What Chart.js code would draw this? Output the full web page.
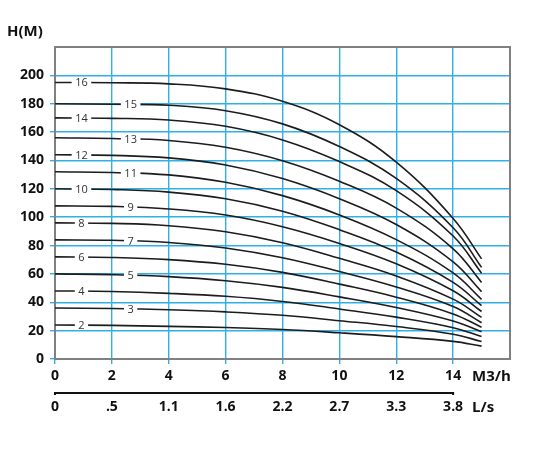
<!DOCTYPE html>
<html>
<head>
<meta charset="utf-8">
<script src="https://cdn.jsdelivr.net/npm/chart.js@4.4.1/dist/chart.umd.min.js"></script>
<style>
  html, body { margin: 0; padding: 0; background: #fff; }
  #wrap { width: 541px; height: 460px; position: relative; }
</style>
</head>
<body>
<div id="wrap"><canvas id="c" width="541" height="460"></canvas></div>
<script>
// ---- data ----
const flowM3h = [0, 2, 4, 6, 8, 10, 12, 14, 15];
const stages = [2, 3, 4, 5, 6, 7, 8, 9, 10, 11, 12, 13, 14, 15, 16];
const head2  = [24, 23.7, 23.0, 22.2, 20.8, 18.5, 15.8, 12.4, 9.1];
const head3  = [36, 35.6, 34.7, 33.2, 30.8, 27.0, 22.9, 17.5, 12.3];
const head4  = [48, 47.6, 46.3, 44.2, 40.6, 35.3, 29.5, 22.1, 15.8];
const head5  = [60, 59.5, 58.1, 55.2, 50.5, 43.8, 36.3, 26.8, 19.3];
const head6  = [72, 71.6, 70.1, 66.8, 61.1, 52.8, 43.6, 31.8, 22.4];
const head7  = [84, 83.7, 82.2, 78.3, 71.4, 61.7, 50.8, 37.0, 25.6];
const head8  = [96, 95.6, 94.0, 89.7, 82.0, 71.0, 58.6, 42.2, 29.4];
const head9  = [108, 107.6, 105.8, 101.5, 93.3, 81.5, 67.2, 48.1, 33.5];
const head10 = [120, 119.5, 117.7, 113.0, 104.2, 91.2, 75.4, 54.0, 37.6];
const head11 = [132, 131.5, 129.8, 124.6, 115.2, 101.6, 84.2, 60.7, 42.1];
const head12 = [144, 143.6, 141.8, 136.8, 127.2, 113.0, 94.8, 68.5, 47.5];
const head13 = [156, 155.5, 154.1, 149.3, 139.8, 125.3, 106.4, 77.7, 54.0];
const head14 = [170, 169.7, 168.5, 164.1, 154.5, 139.2, 118.7, 86.7, 60.5];
const head15 = [180, 179.6, 178.9, 175.1, 165.8, 149.8, 127.3, 92.5, 64.6];
const head16 = [195, 194.8, 194.0, 190.5, 181.7, 165.2, 138.8, 99.1, 70.6];
const heads = [head2, head3, head4, head5, head6, head7, head8, head9, head10, head11, head12, head13, head14, head15, head16];
const flowTicksM3h = [0, 2, 4, 6, 8, 10, 12, 14];
const flowTicksLs = ['0', '.5', '1.1', '1.6', '2.2', '2.7', '3.3', '3.8'];
const headTicks = [0, 20, 40, 60, 80, 100, 120, 140, 160, 180, 200];

// ---- styling ----
const GRID = '#2fb0e6';
const FRAME = '#808080';
const TEXT = '#111';
const tickFont = { family: 'Open Sans', weight: 'bold', size: 14 };

const datasets = stages.map((s, i) => ({
  label: String(s),
  data: flowM3h.map((q, j) => ({ x: q, y: heads[i][j] })),
  borderColor: '#1c1c1c',
  borderWidth: 1.6,
  pointRadius: 0,
  fill: false,
  tension: 0.4
}));

function interpAt(xs, ys, xv) {
  for (let k = 0; k < xs.length - 1; k++) {
    if (xv >= xs[k] && xv <= xs[k + 1]) {
      const t = (xv - xs[k]) / (xs[k + 1] - xs[k]);
      return ys[k] + t * (ys[k + 1] - ys[k]);
    }
  }
  return ys[ys.length - 1];
}

const framePlugin = {
  id: 'frame',
  beforeDatasetsDraw(chart) {
    const { ctx, chartArea: a } = chart;
    ctx.save();
    ctx.strokeStyle = FRAME;
    ctx.lineWidth = 2;
    ctx.strokeRect(a.left, a.top, a.right - a.left, a.bottom - a.top);
    ctx.restore();
  }
};

const curveLabels = {
  id: 'curveLabels',
  afterDatasetsDraw(chart) {
    const { ctx, scales: { x, y } } = chart;
    ctx.save();
    ctx.font = '11px "Open Sans"';
    ctx.textAlign = 'center';
    ctx.textBaseline = 'middle';
    stages.forEach((s, i) => {
      const lx = (s % 2 === 0) ? 0.93 : 2.66;
      const v = interpAt(flowM3h, heads[i], lx);
      const px = x.getPixelForValue(lx);
      const py = y.getPixelForValue(v);
      const txt = String(s);
      const w = ctx.measureText(txt).width + 7;
      ctx.fillStyle = '#fff';
      ctx.fillRect(px - w / 2, py - 3, w, 6);
      ctx.fillStyle = '#333';
      ctx.fillText(txt, px, py + 0.5);
    });
    ctx.restore();
  }
};

const axisTexts = {
  id: 'axisTexts',
  afterDraw(chart) {
    const { ctx, chartArea: a, scales: { x } } = chart;
    ctx.save();
    ctx.fillStyle = TEXT;
    ctx.font = 'bold 15px "Open Sans"';
    ctx.textBaseline = 'middle';
    ctx.textAlign = 'left';
    ctx.fillText('H(M)', 7, 32);
    ctx.fillText('M3/h', a.right - 38, a.bottom + 18);
    ctx.fillText('L/s', a.right - 38, a.bottom + 49);
    // L/s axis line
    ctx.strokeStyle = '#111';
    ctx.lineWidth = 2;
    const yl = a.bottom + 34;
    const x0 = x.getPixelForValue(flowTicksM3h[0]);
    const x1 = x.getPixelForValue(flowTicksM3h[flowTicksM3h.length - 1]);
    ctx.beginPath();
    ctx.moveTo(x0, yl + 2);
    ctx.lineTo(x0, yl);
    ctx.lineTo(x1, yl);
    ctx.lineTo(x1, yl + 2);
    ctx.stroke();
    ctx.restore();
  }
};

new Chart(document.getElementById('c'), {
  type: 'line',
  data: { datasets },
  plugins: [framePlugin, curveLabels, axisTexts],
  options: {
    responsive: false,
    animation: false,
    devicePixelRatio: 1,
    layout: { padding: { left: 0, right: 31, top: 47, bottom: 33 } },
    plugins: { legend: { display: false }, tooltip: { enabled: false } },
    scales: {
      x: {
        type: 'linear',
        position: 'bottom',
        weight: 0,
        min: 0, max: 16,
        afterFit(s) { s.height = 28; },
        afterBuildTicks(s) { s.ticks = [...flowTicksM3h, 16].map(v => ({ value: v })); },
        ticks: {
          font: tickFont, color: TEXT, padding: 4, maxRotation: 0, autoSkip: false,
          callback: (v) => flowTicksM3h.includes(v) ? String(v) : ''
        },
        grid: {
          color: (c) => (c.tick && c.tick.value > 0 && c.tick.value < 16) ? GRID : 'rgba(0,0,0,0)',
          tickColor: (c) => (c.tick && c.tick.value < 16) ? GRID : 'rgba(0,0,0,0)',
          lineWidth: 1.4, tickLength: 5
        },
        border: { display: true, color: FRAME, width: 2 }
      },
      x2: {
        type: 'linear',
        position: 'bottom',
        weight: 1,
        min: 0, max: 16,
        afterFit(s) { s.height = 40; },
        afterBuildTicks(s) { s.ticks = flowTicksM3h.map(v => ({ value: v })); },
        ticks: {
          font: tickFont, color: TEXT, padding: 12, maxRotation: 0, autoSkip: false,
          callback: (v) => { const k = flowTicksM3h.indexOf(v); return k >= 0 ? flowTicksLs[k] : ''; }
        },
        grid: { display: false, drawTicks: false },
        border: { display: false }
      },
      y: {
        type: 'linear',
        min: 0, max: 220,
        afterFit(s) { s.width = 55; },
        afterBuildTicks(s) { s.ticks = [...headTicks, 220].map(v => ({ value: v })); },
        ticks: {
          font: tickFont, color: TEXT, padding: 6, autoSkip: false,
          callback: (v) => headTicks.includes(v) ? String(v) : ''
        },
        grid: {
          color: (c) => (c.tick && c.tick.value > 0 && c.tick.value < 220) ? GRID : 'rgba(0,0,0,0)',
          tickColor: (c) => (c.tick && c.tick.value < 220) ? GRID : 'rgba(0,0,0,0)',
          lineWidth: 1.4, tickLength: 5
        },
        border: { display: true, color: FRAME, width: 2 }
      }
    }
  }
});
</script>
</body>
</html>
